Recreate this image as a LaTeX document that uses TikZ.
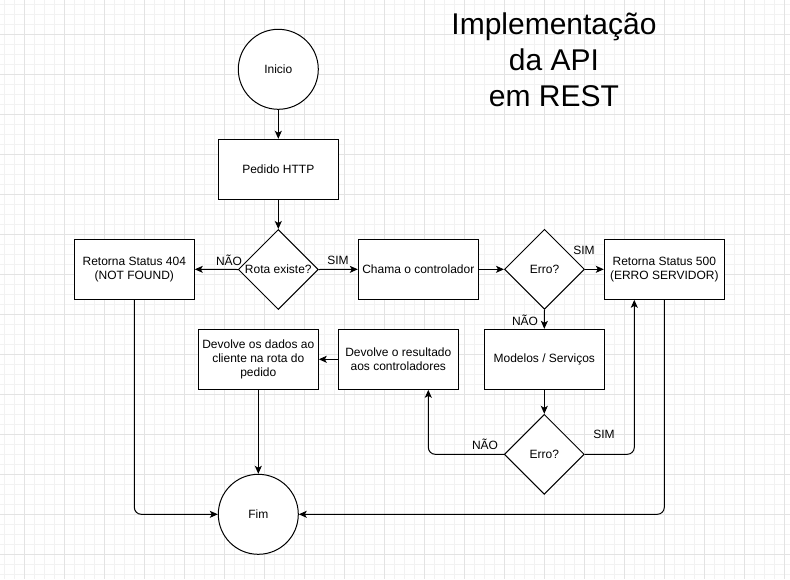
\documentclass[tikz,border=0pt]{standalone}
\usepackage{fontspec}
\setmainfont{Liberation Sans}
\usetikzlibrary{arrows.meta,shapes.geometric,calc}
\newcommand\diagfont{\fontsize{12}{14.4}\selectfont}
\newcommand\titlefont{\fontsize{30}{36}\selectfont}
\definecolor{gridminor}{HTML}{F2F2F2}
\definecolor{gridmajor}{HTML}{E3E3E3}
\tikzset{
  stepbox/.style={draw, fill=white, line width=1pt, minimum width=120pt, minimum height=60pt, align=center, inner sep=2pt, font=\diagfont},
  endcircle/.style={draw, fill=white, line width=1pt, circle, minimum size=80pt, inner sep=0pt, font=\diagfont},
  decision/.style={draw, fill=white, line width=1pt, diamond, aspect=1, minimum width=80pt, minimum height=80pt, inner sep=0pt, font=\diagfont},
  arr/.style={draw, line width=1pt, -{Stealth[length=8pt, width=7pt, inset=2pt]}},
  lbl/.style={font=\diagfont, inner sep=0pt},
}
\begin{document}
\begin{tikzpicture}[x=1pt,y=-1pt]
\useasboundingbox (0,0) rectangle (790,579);
\fill[white] (0,0) rectangle (790,579);
% grid
\foreach \gx in {4.3,14.3,...,790} {\draw[gridminor, line width=1pt] (\gx,0) -- (\gx,579);}
\foreach \gy in {4.3,14.3,...,579} {\draw[gridminor, line width=1pt] (0,\gy) -- (790,\gy);}
\foreach \gx in {24.3,64.3,...,790} {\draw[gridmajor, line width=1pt] (\gx,0) -- (\gx,579);}
\foreach \gy in {34.3,74.3,...,579} {\draw[gridmajor, line width=1pt] (0,\gy) -- (790,\gy);}

% title
\node[font=\titlefont, align=center, anchor=base, inner sep=0pt] (title) at (554,106.7) {Implementação\\da API\\em REST};

% nodes
\node[endcircle] (inicio) at (278.3,69.3) {Inicio};
\node[stepbox] (pedido) at (278.3,169.3) {Pedido HTTP};
\node[decision] (rota) at (278.3,269.5) {Rota existe?};
\node[stepbox] (r404) at (134.3,269.3) {Retorna Status 404\\(NOT FOUND)};
\node[stepbox] (chama) at (418.3,269.3) {Chama o controlador};
\node[decision] (erro1) at (544.5,269.3) {Erro?};
\node[stepbox] (r500) at (664.3,269.3) {Retorna Status 500\\(ERRO SERVIDOR)};
\node[stepbox] (modelos) at (544.3,359.3) {Modelos / Serviços};
\node[decision] (erro2) at (544.3,454.3) {Erro?};
\node[stepbox] (dres) at (398.3,359.3) {Devolve o resultado\\aos controladores};
\node[stepbox] (ddados) at (258.3,359.3) {Devolve os dados ao\\cliente na rota do\\pedido};
\node[endcircle] (fim) at (258.3,514.3) {Fim};

% connectors
\draw[arr] (inicio) -- (pedido);
\draw[arr] (pedido) -- (rota);
\draw[arr] (rota.west) -- (r404.east);
\draw[arr] (rota.east) -- (chama.west);
\draw[arr] (chama.east) -- (erro1.west);
\draw[arr] (erro1.east) -- (r500.west);
\draw[arr] (erro1.south) -- (modelos.north);
\draw[arr] (modelos.south) -- (erro2.north);
\draw[arr, rounded corners=7pt] (erro2.west) -| ([xshift=30pt]dres.south);
\draw[arr, rounded corners=7pt] (erro2.east) -| ([xshift=-30pt]r500.south);
\draw[arr] (dres.west) -- (ddados.east);
\draw[arr] (ddados.south) -- (fim.north);
\draw[arr, rounded corners=7pt] (r404.south) |- (fim.west);
\draw[arr, rounded corners=7pt] (r500.south) |- (fim.east);

% labels
\node[lbl] (l1) at (229,260) {NÃO};
\node[lbl] (l2) at (338,260) {SIM};
\node[lbl] (l3) at (584,250) {SIM};
\node[lbl] (l4) at (525,320) {NÃO};
\node[lbl] (l5) at (485,444) {NÃO};
\node[lbl] (l6) at (604,434) {SIM};
\end{tikzpicture}
\end{document}
